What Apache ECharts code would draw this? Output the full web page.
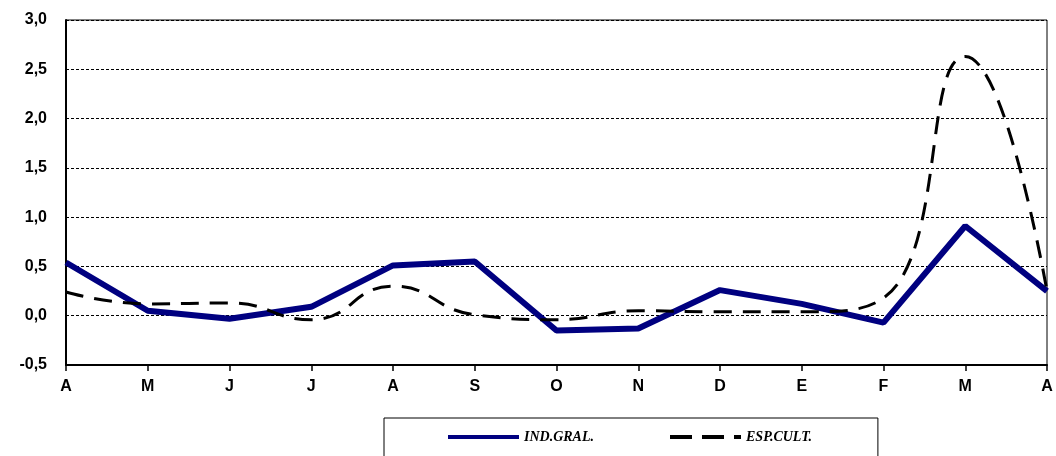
<!DOCTYPE html>
<html>
<head>
<meta charset="utf-8">
<script src="https://cdn.jsdelivr.net/npm/echarts@6/dist/echarts.min.js"></script>
<style>html,body{margin:0;padding:0;background:#fff}#c{width:1056px;height:456px}</style>
</head>
<body>
<div id="c"></div>
<script>
var categories = ['A','M','J','J','A','S','O','N','D','E','F','M','A'];
var indGral = [0.54, 0.05, -0.03, 0.09, 0.51, 0.55, -0.15, -0.13, 0.26, 0.12, -0.07, 0.91, 0.25];
var espCult = [0.24, 0.12, 0.13, -0.04, 0.30, 0.01, -0.04, 0.05, 0.04, 0.04, 0.18, 2.63, 0.25];
var seriesNames = ['IND.GRAL.', 'ESP.CULT.'];

var chart = echarts.init(document.getElementById('c'), null, {renderer: 'canvas'});
chart.setOption({
  animation: false,
  backgroundColor: '#fff',
  grid: {left: 66, right: 9, top: 20, bottom: 91, show: true, borderColor: '#000', borderWidth: 1, backgroundColor: 'transparent'},
  legend: {
    left: 384, top: 418,
    padding: [12, 66, 30, 62],
    itemGap: 74,
    itemWidth: 71, itemHeight: 14,
    borderColor: '#000', borderWidth: 1,
    itemStyle: {opacity: 0},
    data: [
      {name: seriesNames[0], lineStyle: {width: 4, color: '#000080'}},
      {name: seriesNames[1], lineStyle: {width: 4, color: '#000', type: [22, 10]}}
    ],
    textStyle: {fontFamily: 'Liberation Serif', fontWeight: 'bold', fontStyle: 'italic', fontSize: 14, color: '#000'}
  },
  xAxis: {
    type: 'category', boundaryGap: false, data: categories,
    axisLine: {onZero: false, lineStyle: {color: '#000', width: 2}},
    axisTick: {show: true, alignWithLabel: true, length: 6, lineStyle: {color: '#000', width: 1.5}},
    axisLabel: {color: '#000', fontFamily: 'Liberation Sans', fontWeight: 'bold', fontSize: 16, margin: 14},
    splitLine: {show: false}
  },
  yAxis: {
    type: 'value', min: -0.5, max: 3.0, interval: 0.5,
    axisLine: {show: true, lineStyle: {color: '#000', width: 2}},
    axisTick: {show: false},
    axisLabel: {color: '#000', fontFamily: 'Liberation Sans', fontWeight: 'bold', fontSize: 16, margin: 19,
      formatter: function (v) { return v.toFixed(1).replace('.', ','); }},
    splitLine: {show: true, lineStyle: {color: '#000', width: 1, type: [3, 2]}}
  },
  series: [
    {name: seriesNames[0], type: 'line', data: indGral, symbol: 'none', smooth: false,
      lineStyle: {color: '#000080', width: 6}, itemStyle: {color: '#000080'}, z: 3},
    {name: seriesNames[1], type: 'line', data: espCult, symbol: 'none', smooth: 0.5,
      lineStyle: {color: '#000', width: 3, type: [18, 11]}, itemStyle: {color: '#000'}, z: 4}
  ]
});
</script>
</body>
</html>
